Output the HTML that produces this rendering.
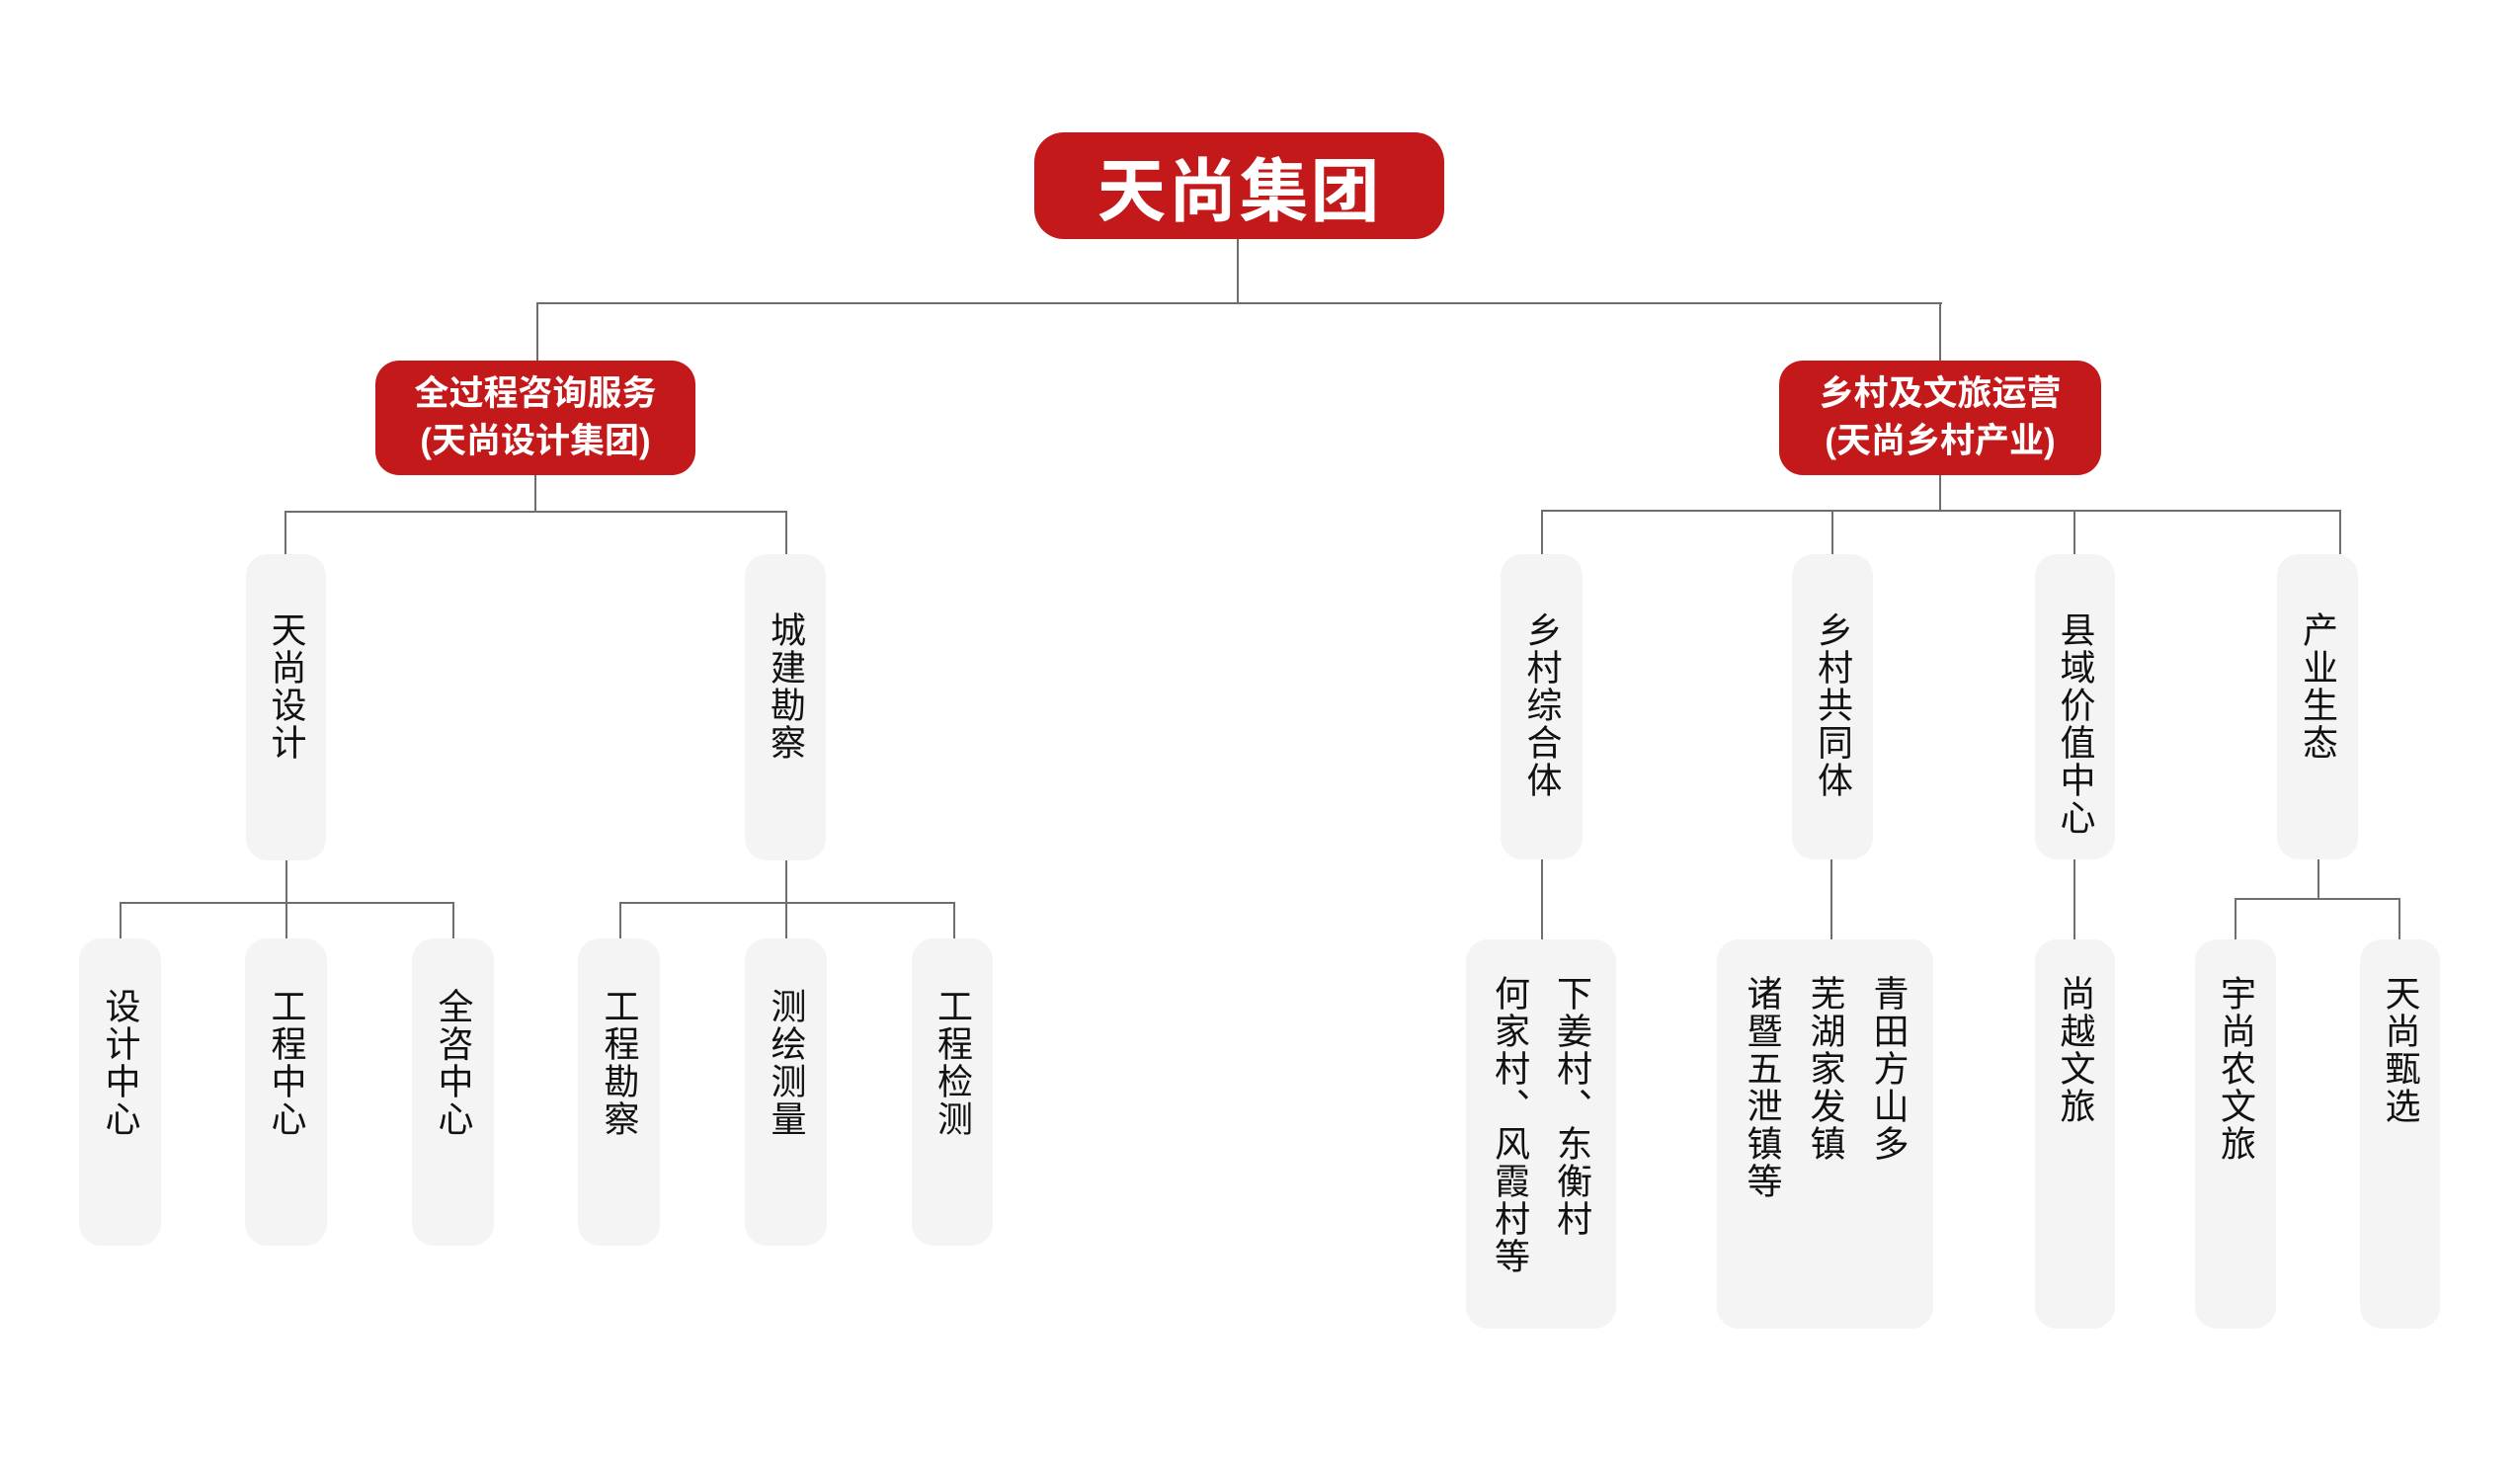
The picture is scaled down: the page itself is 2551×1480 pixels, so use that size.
<!DOCTYPE html>
<html><head><meta charset="utf-8"><style>
body{margin:0;width:2551px;height:1480px;background:#fff;position:relative;overflow:hidden;font-family:"Liberation Sans","Noto Sans CJK SC",sans-serif;}
.r{position:absolute;background:#c4191a;border-radius:30px;color:#fff;font-weight:bold;display:flex;align-items:center;justify-content:center;text-align:center;}
.g{position:absolute;background:#f4f4f4;border-radius:22px;}
.t{position:absolute;left:50%;top:58px;transform:translateX(-50%);writing-mode:vertical-rl;font-size:36px;line-height:40px;letter-spacing:2px;color:#111;white-space:nowrap;}
.l3 .t{top:50px;}
.h{position:absolute;height:2px;background:#6e6e6e;}
.v{position:absolute;width:2px;background:#6e6e6e;}
</style></head><body>
<div class="r" style="left:1047px;top:134px;width:415px;height:108px;font-size:70px;letter-spacing:2px;">天尚集团</div>
<div class="r" style="left:380px;top:365px;width:324px;height:116px;font-size:35px;line-height:48px;border-radius:24px;">全过程咨询服务<br>(天尚设计集团)</div>
<div class="r" style="left:1801px;top:365px;width:326px;height:116px;font-size:35px;line-height:48px;border-radius:24px;">乡村及文旅运营<br>(天尚乡村产业)</div>

<div class="v" style="left:1252px;top:242px;height:66px"></div>
<div class="h" style="left:543px;top:306px;width:1423px"></div>
<div class="v" style="left:543px;top:306px;height:59px"></div>
<div class="v" style="left:1963px;top:306px;height:59px"></div>

<div class="v" style="left:541px;top:481px;height:37px"></div>
<div class="h" style="left:288px;top:517px;width:509px"></div>
<div class="v" style="left:288px;top:517px;height:44px"></div>
<div class="v" style="left:795px;top:517px;height:44px"></div>

<div class="v" style="left:1963px;top:481px;height:37px"></div>
<div class="h" style="left:1560px;top:516px;width:810px"></div>
<div class="v" style="left:1560px;top:516px;height:45px"></div>
<div class="v" style="left:1854px;top:516px;height:45px"></div>
<div class="v" style="left:2099px;top:516px;height:45px"></div>
<div class="v" style="left:2368px;top:516px;height:45px"></div>

<div class="g" style="left:249px;top:561px;width:81px;height:310px"><div class="t">天尚设计</div></div>
<div class="g" style="left:754px;top:561px;width:82px;height:310px"><div class="t">城建勘察</div></div>
<div class="g" style="left:1519px;top:561px;width:83px;height:309px"><div class="t">乡村综合体</div></div>
<div class="g" style="left:1814px;top:561px;width:82px;height:309px"><div class="t">乡村共同体</div></div>
<div class="g" style="left:2060px;top:561px;width:81px;height:309px"><div class="t">县域价值中心</div></div>
<div class="g" style="left:2305px;top:561px;width:82px;height:309px"><div class="t">产业生态</div></div>

<div class="v" style="left:289px;top:871px;height:80px"></div>
<div class="h" style="left:121px;top:913px;width:339px"></div>
<div class="v" style="left:121px;top:913px;height:38px"></div>
<div class="v" style="left:458px;top:913px;height:38px"></div>
<div class="v" style="left:795px;top:871px;height:80px"></div>
<div class="h" style="left:627px;top:913px;width:340px"></div>
<div class="v" style="left:627px;top:913px;height:38px"></div>
<div class="v" style="left:965px;top:913px;height:38px"></div>

<div class="l3">
<div class="g" style="left:80px;top:950px;width:83px;height:311px"><div class="t">设计中心</div></div>
<div class="g" style="left:248px;top:950px;width:83px;height:311px"><div class="t">工程中心</div></div>
<div class="g" style="left:417px;top:950px;width:83px;height:311px"><div class="t">全咨中心</div></div>
<div class="g" style="left:585px;top:950px;width:83px;height:311px"><div class="t">工程勘察</div></div>
<div class="g" style="left:754px;top:950px;width:83px;height:311px"><div class="t">测绘测量</div></div>
<div class="g" style="left:923px;top:950px;width:82px;height:311px"><div class="t">工程检测</div></div>
</div>

<div class="v" style="left:1560px;top:870px;height:81px"></div>
<div class="v" style="left:1853px;top:870px;height:81px"></div>
<div class="v" style="left:2099px;top:870px;height:81px"></div>
<div class="v" style="left:2346px;top:870px;height:40px"></div>
<div class="h" style="left:2262px;top:909px;width:168px"></div>
<div class="v" style="left:2262px;top:909px;height:42px"></div>
<div class="v" style="left:2428px;top:909px;height:42px"></div>

<div class="g" style="left:1484px;top:951px;width:152px;height:394px"><div class="t" style="top:36px;line-height:63px">下姜村、东衡村<br>何家村、风霞村等</div></div>
<div class="g" style="left:1738px;top:951px;width:219px;height:394px"><div class="t" style="top:36px;line-height:64px">青田方山多<br>芜湖家发镇<br>诸暨五泄镇等</div></div>
<div class="g" style="left:2060px;top:951px;width:81px;height:394px"><div class="t" style="top:36px">尚越文旅</div></div>
<div class="g" style="left:2222px;top:951px;width:82px;height:394px"><div class="t" style="top:36px">宇尚农文旅</div></div>
<div class="g" style="left:2389px;top:951px;width:81px;height:394px"><div class="t" style="top:36px">天尚甄选</div></div>
</body></html>
